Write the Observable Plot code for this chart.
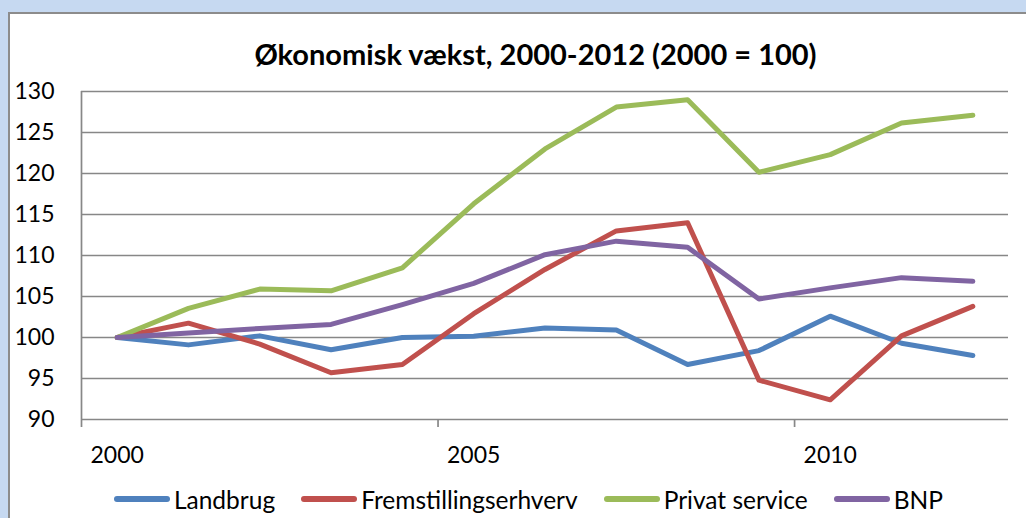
<!DOCTYPE html>
<html><head><meta charset="utf-8">
<script src="https://cdn.jsdelivr.net/npm/d3@7"></script>
<script src="https://cdn.jsdelivr.net/npm/@observablehq/plot@0.6"></script>
<style>
html,body{margin:0;padding:0;width:1026px;height:518px;overflow:hidden;background:#c6d9f1;font-family:Lato,"Open Sans",sans-serif;}
#frame{position:absolute;left:8px;top:12px;width:1100px;height:600px;background:#fff;border:2px solid #8c8c8c;box-sizing:border-box}
#chart{position:absolute;left:0;top:0}
#title{position:absolute;left:0;width:1071px;top:36px;text-align:center;font-weight:bold;font-size:29px;line-height:36px;color:#000;white-space:nowrap}
#legend{position:absolute;left:0;width:1057px;top:483px;height:32px;display:flex;justify-content:center;align-items:center;gap:26px;font-size:24.5px;color:#000;white-space:nowrap}
.item{display:flex;align-items:center;gap:4px}
.sw{width:56px;height:6px;border-radius:3px}
</style></head><body>
<div id="frame"></div>
<div id="chart"></div>
<div id="title">Økonomisk vækst, 2000-2012 (2000 = 100)</div>
<div id="legend"></div>
<script>
const years = [2000,2001,2002,2003,2004,2005,2006,2007,2008,2009,2010,2011,2012];
const seriesNames = ["Landbrug","Fremstillingserhverv","Privat service","BNP"];
const seriesColors = ["#4f81bd","#c0504d","#9bbb59","#8064a2"];
const landbrug = [100, 99.1, 100.2, 98.5, 100.0, 100.15, 101.15, 100.9, 96.7, 98.4, 102.6, 99.3, 97.8];
const fremstilling = [100, 101.75, 99.2, 95.7, 96.7, 102.9, 108.3, 113.0, 114.0, 94.8, 92.4, 100.2, 103.8];
const privatService = [100, 103.55, 105.9, 105.7, 108.5, 116.3, 123.0, 128.1, 129.0, 120.15, 122.3, 126.15, 127.1];
const bnp = [100, 100.55, 101.1, 101.6, 104.0, 106.6, 110.1, 111.75, 111.0, 104.7, 106.05, 107.3, 106.85];
const yTicks = [90,95,100,105,110,115,120,125,130];
const xLabelTicks = [2000,2005,2010];
const xBoundaryTicks = [1999.5,2004.5,2009.5];

const allSeries = [landbrug, fremstilling, privatService, bnp];
const data = [];
seriesNames.forEach((name, i) => years.forEach((yr, j) => data.push({series: name, year: yr, value: allSeries[i][j]})));

const grid = "#878787";
const chart = Plot.plot({
  width: 1026, height: 518,
  marginLeft: 81, marginRight: 18, marginTop: 91, marginBottom: 99,
  style: {fontFamily: "Lato, 'Open Sans', sans-serif", background: "transparent", color: "#000", overflow: "visible"},
  x: {type: "linear", domain: [1999.5, 2012.5], label: null},
  y: {domain: [90, 130], label: null},
  color: {domain: seriesNames, range: seriesColors},
  marks: [
    Plot.ruleY(yTicks, {stroke: grid, strokeWidth: 1.7}),
    Plot.ruleX([1999.5], {stroke: grid, strokeWidth: 1.7}),
    Plot.axisX({ticks: xBoundaryTicks, tickSize: 8, tickFormat: () => "", stroke: grid, strokeWidth: 1.7}),
    Plot.axisX({ticks: xLabelTicks, tickSize: 0, tickPadding: 27, tickFormat: d => String(d), fontSize: 23}),
    Plot.axisY({ticks: yTicks, tickSize: 0, tickPadding: 27, fontSize: 23}),
    Plot.line(data, {x: "year", y: "value", z: "series", stroke: "series", strokeWidth: 5, strokeLinecap: "round", strokeLinejoin: "round"})
  ]
});
document.getElementById("chart").appendChild(chart);

const legend = document.getElementById("legend");
seriesNames.forEach((name, i) => {
  const it = document.createElement("div"); it.className = "item";
  const sw = document.createElement("div"); sw.className = "sw"; sw.style.background = seriesColors[i];
  const tx = document.createElement("span"); tx.textContent = name;
  it.appendChild(sw); it.appendChild(tx); legend.appendChild(it);
});
</script>
</body></html>
